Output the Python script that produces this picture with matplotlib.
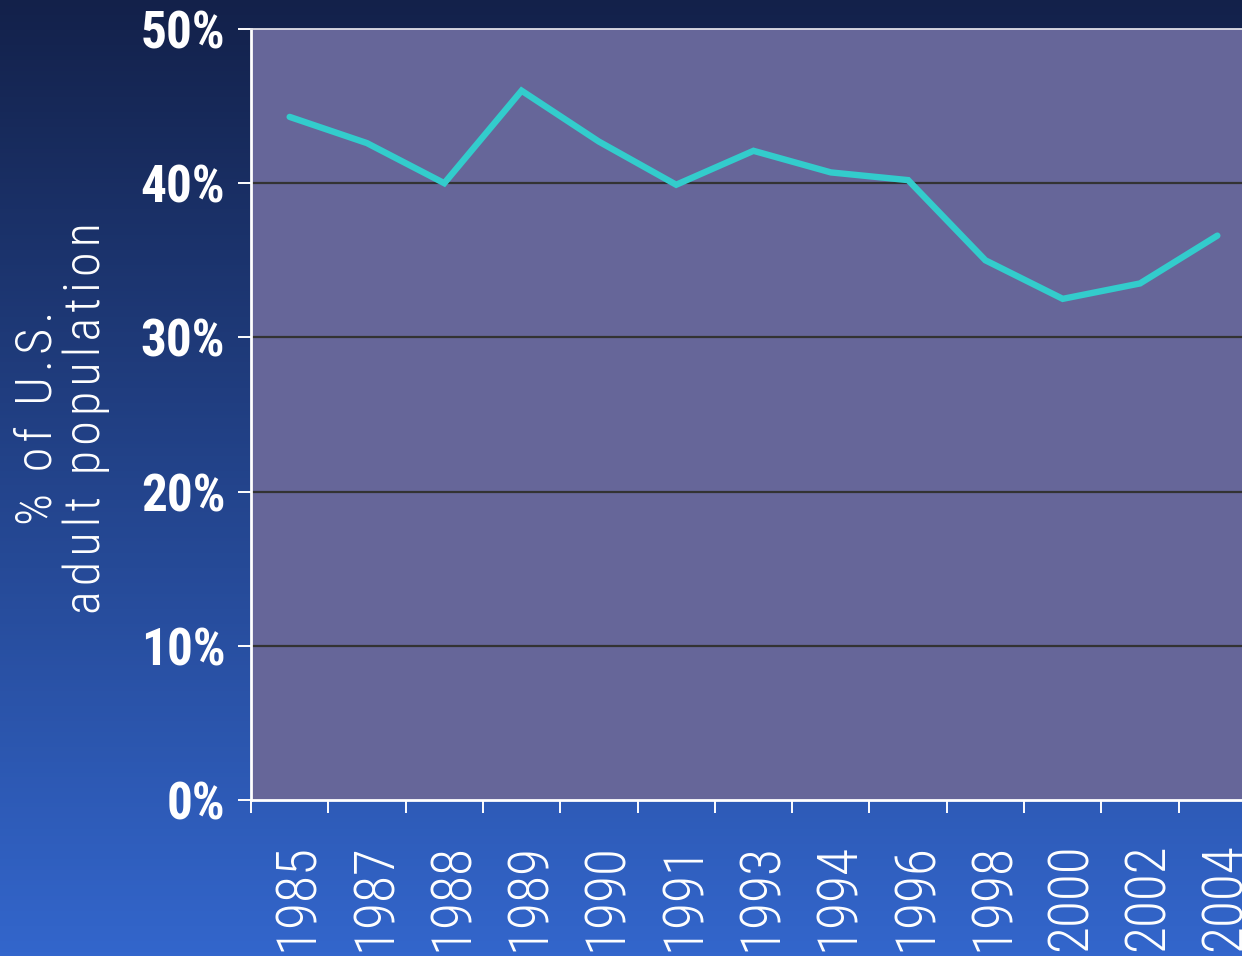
import numpy as np
import matplotlib
matplotlib.use("Agg")
import matplotlib.pyplot as plt
from matplotlib import font_manager as fm
from matplotlib.transforms import ScaledTranslation
from matplotlib.colors import LinearSegmentedColormap

# ---- data ----
years = ["1985", "1987", "1988", "1989", "1990", "1991", "1993",
         "1994", "1996", "1998", "2000", "2002", "2004"]
percent = [44.3, 42.6, 40.0, 46.0, 42.7, 39.9, 42.1,
           40.7, 40.2, 35.0, 32.5, 33.5, 36.6]
y_ticks = [0, 10, 20, 30, 40, 50]
y_tick_labels = ["0%", "10%", "20%", "30%", "40%", "50%"]
y_title_lines = ["% of U.S.", "adult population"]

# ---- fonts ----
fonts = {}
for f in fm.fontManager.ttflist:
    w = f.weight if isinstance(f.weight, int) else 400
    fonts.setdefault(f.name, set()).add(w)

def pick(cands, weight_test):
    for c in cands:
        if c in fonts and any(weight_test(w) for w in fonts[c]):
            return c
    return None

cond = ["Arial Narrow", "Liberation Sans Narrow", "Roboto Condensed", "Archivo Narrow",
        "Barlow Condensed", "Fira Sans Condensed", "Pragati Narrow", "PT Sans Narrow",
        "Open Sans Condensed", "Encode Sans Condensed", "IBM Plex Sans Condensed",
        "Asap Condensed", "Saira Condensed", "Oswald"]
bold_cond = pick(cond, lambda w: w >= 700) or "Liberation Sans"
light_cond = pick(cond, lambda w: w == 300)
if light_cond:
    light_weight = 300
else:
    light_cond = pick(cond, lambda w: w == 400) or "Liberation Sans"
    light_weight = 400

HS = "\u200a"  # hair space for letter spacing
def spaced(s):
    return HS.join(s)

W, H = 1242, 956
fig = plt.figure(figsize=(W / 100, H / 100), dpi=100)

# background gradient
bg = fig.add_axes([0, 0, 1, 1], zorder=-10)
bg.axis("off")
cmap = LinearSegmentedColormap.from_list("bg", ["#13214a", "#3366cc"])
grad = np.linspace(0, 1, 256).reshape(-1, 1)
bg.imshow(grad, aspect="auto", cmap=cmap, extent=[0, 1, 0, 1], origin="upper")
bg.set_xlim(0, 1)
bg.set_ylim(0, 1)

left, right, bottom, top = 251, 1256, 800, 29
ax = fig.add_axes([left / W, 1 - bottom / H, (right - left) / W, (bottom - top) / H])
ax.set_facecolor("#666699")

x = np.arange(len(years))
for gy in y_ticks[1:-1]:
    ax.axhline(gy, color="#333333", lw=1.6, zorder=1)

ax.plot(x, percent, color="#33cccc", lw=4.6, solid_capstyle="round",
        solid_joinstyle="miter", zorder=3)

ax.set_xlim(-0.5, len(years) - 0.5)
ax.set_ylim(0, 50)

ax.set_yticks(y_ticks)
ax.set_yticklabels(y_tick_labels, fontfamily=[bold_cond, "DejaVu Sans"],
                   fontweight="bold", fontsize=37, color="white")
ax.tick_params(axis="y", length=9.5, width=1.4, color="white", pad=9)

ax.set_xticks(x)
ax.set_xticklabels(years, rotation=90,
                   fontfamily=[light_cond, "DejaVu Sans"], fontweight=light_weight,
                   fontsize=40, color="white")
ax.tick_params(axis="x", which="major", length=0, pad=31)
ax.set_xticks(np.arange(-0.5, len(years), 1.0), minor=True)
ax.tick_params(axis="x", which="minor", length=9.5, width=1.4, color="white",
               direction="out")
off = ScaledTranslation(8 / 100, 0, fig.dpi_scale_trans)
for lab in ax.get_xticklabels():
    lab.set_transform(lab.get_transform() + off)

for s in ["left", "bottom"]:
    ax.spines[s].set_color("white")
    ax.spines[s].set_linewidth(2)
ax.spines["top"].set_color("#e0e0e8")
ax.spines["top"].set_linewidth(1.3)
ax.spines["right"].set_visible(False)

fig.text(62 / W, 1 - 418 / H, "\n".join(spaced(l) for l in y_title_lines),
         rotation=90, ha="center", va="center",
         fontsize=36, fontfamily=[light_cond, "DejaVu Sans"], fontweight=light_weight,
         color="white", linespacing=1.05, multialignment="center")

fig.savefig("out.png", dpi=100)
